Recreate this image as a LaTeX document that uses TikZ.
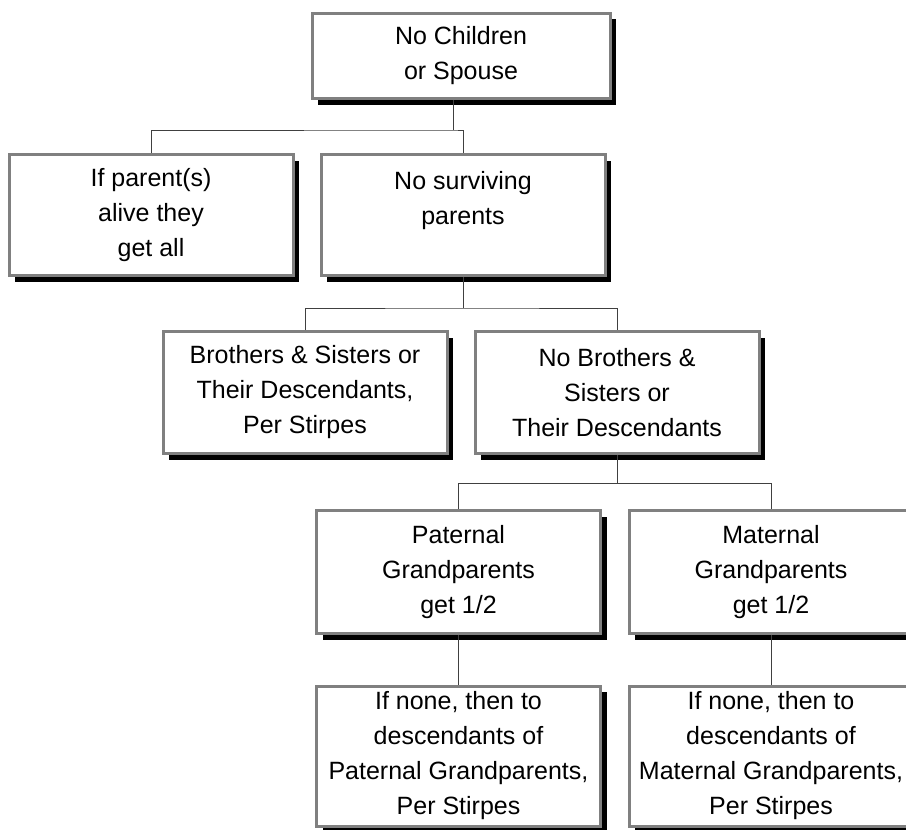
\documentclass[tikz,border=0pt]{standalone}
\usepackage{fontspec}
\setmainfont{Liberation Sans}
\usetikzlibrary{shadows}

\definecolor{boxgray}{RGB}{128,128,128}
\definecolor{linkgray}{RGB}{64,64,64}

\tikzset{every picture/.style={line width=0.75pt}}
\tikzset{
  heir/.style={draw=boxgray, line width=2.25pt, fill=white, align=center,
    inner sep=0pt, minimum width=213pt,
    font=\fontsize{18.75pt}{26.25pt}\selectfont,
    drop shadow={shadow xshift=4.5pt, shadow yshift=-4.5pt, fill=black, opacity=1}},
  link/.style={draw=linkgray, line width=0.75pt}
}

\begin{document}
\begin{tikzpicture}[x=0.75pt,y=0.75pt,yscale=-1,xscale=1]
\useasboundingbox (0,0) rectangle (906,829);

% Boxes
\node[heir, minimum width=223.5pt, minimum height=64pt] (root) at (461,56) {No Children\\or Spouse};
\node[heir, minimum height=90.75pt] (alive) at (151,215) {If parent(s)\\alive they\\get all};
\node[heir, minimum height=90.75pt] (nosurv) at (463,215) {No surviving\\parents\\\mbox{}};
\node[heir, minimum height=91.5pt] (sibs) at (305,392.5) {Brothers \& Sisters or\\Their Descendants,\\Per Stirpes};
\node[heir, minimum height=91.5pt] (nosibs) at (617,392.5) {No Brothers \&\\Sisters or\\Their Descendants};
\node[heir, minimum height=92.25pt] (patgp) at (458.5,572) {Paternal\\Grandparents\\get 1/2};
\node[heir, minimum height=92.25pt] (matgp) at (771,572) {Maternal\\Grandparents\\get 1/2};
\node[heir, minimum height=105pt] (patdesc) at (458.5,756) {If none, then to\\descendants of\\Paternal Grandparents,\\Per Stirpes};
\node[heir, minimum height=105pt] (matdesc) at (771,756) {If none, then to\\descendants of\\Maternal Grandparents,\\Per Stirpes};

% Bus points
\coordinate (bus1) at (453,130);
\coordinate (bus2) at (463,308);
\coordinate (bus3) at (617,483);

% Connectors
\draw[link] (root.south -| bus1) -- (bus1);
\draw[link] (alive.north) |- (bus1) -| (nosurv.north);
\draw[link] (nosurv.south) -- (bus2);
\draw[link] (sibs.north) |- (bus2) -| (nosibs.north);
\draw[link] (nosibs.south) -- (bus3);
\draw[link] (patgp.north) |- (bus3) -| (matgp.north);
\draw[link] (patgp.south) -- (patdesc.north);
\draw[link] (matgp.south) -- (matdesc.north);

\end{tikzpicture}
\end{document}
